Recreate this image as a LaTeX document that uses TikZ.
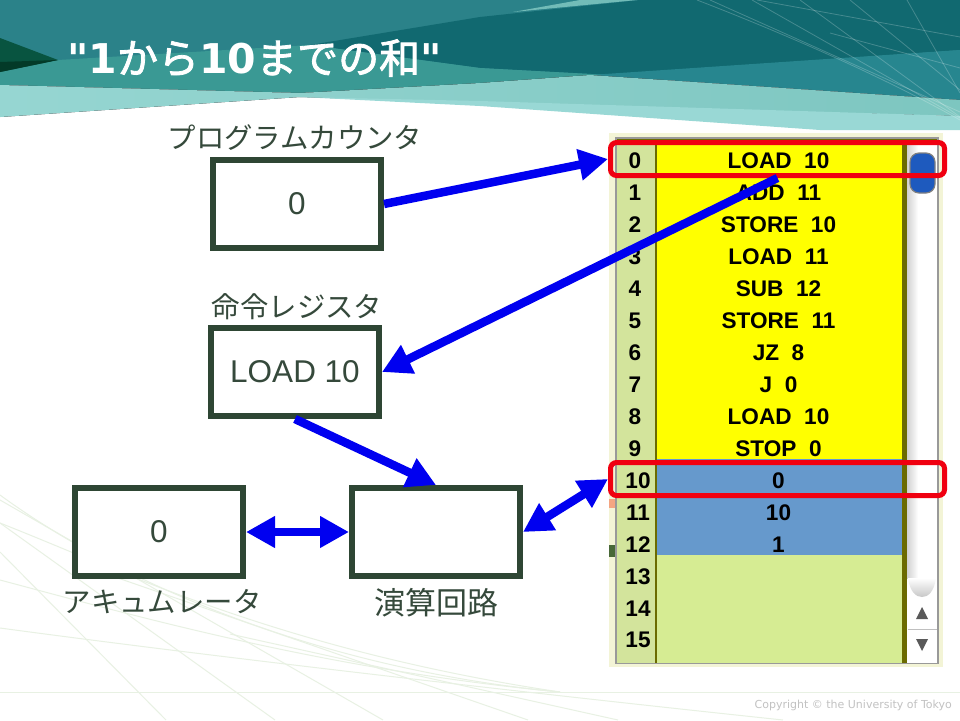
\documentclass[tikz,border=0pt]{standalone}
\usepackage{fontspec}
\setmainfont{Liberation Sans}
\newfontfamily\jpfont{Noto Sans CJK JP}
\newfontfamily\titlelatin{DejaVu Sans Bold}
\newfontfamily\copyfont{DejaVu Sans}
\usetikzlibrary{arrows.meta,shadings}
\definecolor{boxgreen}{HTML}{2E4634}
\definecolor{lblgreen}{HTML}{35493B}
\definecolor{memblue}{HTML}{6699CC}
\definecolor{memlime}{HTML}{D6EC93}
\definecolor{memcol}{HTML}{D3E49C}
\definecolor{memcream}{HTML}{F3F4D6}
\definecolor{memolive}{HTML}{6B6B00}
\definecolor{memyellow}{HTML}{FFFF00}
\definecolor{arrowblue}{HTML}{0000F0}
\definecolor{hlred}{HTML}{F00010}
\definecolor{faint}{HTML}{E8F1E3}
\tikzset{
  x=1pt,y=-1pt,
  regbox/.style={draw=boxgreen,line width=6pt,fill=white,inner sep=0pt,minimum width=168pt,minimum height=88pt,text=lblgreen,font=\fontsize{31.5}{34}\selectfont},
  jplabel/.style={text=lblgreen,inner sep=0pt,font=\jpfont\fontsize{28.4}{32}\selectfont},
  memtext/.style={inner sep=0pt,text=black,font=\bfseries\fontsize{22.6}{24}\selectfont},
  hlbox/.style={draw=hlred,line width=5pt,rounded corners=6pt,minimum width=334pt,minimum height=33pt,inner sep=0pt},
  flow/.style={draw=arrowblue,line width=8.5pt,-{Triangle[length=29pt,width=30pt,fill=arrowblue]}},
  flowboth/.style={draw=arrowblue,line width=8.5pt,{Triangle[length=29pt,width=30pt,fill=arrowblue]}-{Triangle[length=29pt,width=30pt,fill=arrowblue]}},
  bgline/.style={draw=faint,line width=1pt},
  topline/.style={draw=white,draw opacity=.22,line width=.8pt}
}
\begin{document}
\begin{tikzpicture}
\useasboundingbox (0,0) rectangle (960,720);
\fill[white] (0,0) rectangle (960,720);
% lower-left background lines
\draw[bgline] (0,692) -- (960,692);
\draw[bgline] (0,495) .. controls (130,590) and (330,670) .. (560,692);
\draw[bgline] (0,523) .. controls (120,570) and (280,650) .. (560,692);
\draw[bgline] (0,580) .. controls (150,620) and (330,670) .. (560,692);
\draw[bgline] (0,628) .. controls (200,655) and (500,690) .. (783,720);
\draw[bgline] (0,552) -- (166,720);
\draw[bgline] (0,523) -- (275,720);
\draw[bgline] (0,500) -- (383,720);
\draw[bgline] (115,577) -- (528,720);
\draw[bgline] (230,634) -- (618,720);
% header bands
\fill[white] (0,117) -- (300,97) -- (480,106) -- (820,130) -- (960,130) -- (960,140) -- (0,140) -- cycle;
\fill[color={rgb,255:red,43;green,130;blue,137}] (0,0) -- (960,0) -- (960,80) -- (0,80) -- cycle;
\fill[color={rgb,255:red,17;green,105;blue,112}] (310,45) -- (480,17) -- (640,0) -- (960,0) -- (960,50) -- (610,75) -- (480,68) -- cycle;
\fill[color={rgb,255:red,58;green,153;blue,148}] (0,72) -- (58,60) -- (310,45) -- (480,68) -- (610,75) -- (480,85) -- (300,93) -- (0,85) -- cycle;
\fill[color={rgb,255:red,39;green,134;blue,143}] (590,75) -- (960,50) -- (960,100) -- cycle;
\fill[left color={rgb,255:red,150;green,214;blue,210},right color={rgb,255:red,125;green,198;blue,192}] (0,85) -- (300,93) -- (480,83) -- (590,75) -- (960,100) -- (960,116) -- (480,103) -- (300,97) -- (0,117) -- cycle;
\fill[color={rgb,255:red,153;green,216;blue,213}] (300,97) -- (480,101) -- (960,116) -- (960,130) -- (820,130) -- (480,106) -- cycle;
\fill[color={rgb,255:red,114;green,188;blue,184}] (513,12) -- (580,0) -- (637,0) -- cycle;
\fill[color={rgb,255:red,8;green,84;blue,64}] (0,38) -- (58,60) -- (0,72) -- cycle;
\fill[color={rgb,255:red,3;green,58;blue,40}] (0,62) -- (58,60) -- (0,72) -- cycle;
\draw[topline] (697,0) .. controls (780,32) and (880,75) .. (960,120);
\draw[topline] (710,0) -- (960,112);
\draw[topline] (752,0) -- (960,118);
\draw[topline] (800,0) -- (960,117);
\draw[topline] (850,0) -- (960,90);
\draw[topline] (907,0) -- (960,93);
\draw[topline] (757,0) -- (960,37);
\draw[topline] (830,33) -- (960,68);
% title
\node[anchor=west,inner sep=0pt,text=white] (title) at (67,58) {\fontsize{41}{44}\selectfont{\titlelatin "1}{\jpfont\addfontfeatures{FakeBold=2}から}{\titlelatin 10}{\jpfont\addfontfeatures{FakeBold=2}までの和}{\titlelatin "}};
% memory panel
\fill[memcream] (609,133) rectangle (943,667);
\fill[color={rgb,255:red,244;green,165;blue,130}] (609,499) rectangle (616,508);
\fill[color={rgb,255:red,72;green,104;blue,56}] (609,545) rectangle (616,557);
\fill[memcol] (616,138) rectangle (655,663);
\fill[memyellow] (656,145) rectangle (902,459);
\fill[memblue] (656,459) rectangle (902,555);
\fill[memlime] (656,555) rectangle (902,663);
\fill[memolive] (616,138) rectangle (938,140);
\fill[memolive] (654.5,140) rectangle (656.5,663);
\fill[memolive] (902,140) rectangle (907,663);
\fill[white] (907,140) rectangle (937,663);
\shade[left color=black!18,right color=white] (907,140) rectangle (918,578);
\shade[top color=white,bottom color=black!22] (908,578) .. controls (910,592) and (916,597) .. (922,597) .. controls (928,597) and (934,592) .. (936,578) -- cycle;
\shade[left color={rgb,255:red,30;green,90;blue,190},middle color={rgb,255:red,110;green,175;blue,240},right color={rgb,255:red,30;green,90;blue,190},draw=black!50,rounded corners=9pt,line width=1.2pt] (910,153) rectangle (935,193);
\fill[black!65] (916,619) -- (922,607) -- (928,619) -- cycle;
\draw[black!25,line width=.8pt] (908,629) -- (937,629);
\fill[black!65] (916,639) -- (928,639) -- (922,651) -- cycle;
\draw[black!40,line width=1.2pt] (616,138) -- (938,138) -- (938,663.5) -- (616,663.5) -- cycle;
% memory text
\foreach \n/\t in {0/LOAD\ \ 10,1/ADD\ \ 11,2/STORE\ \ 10,3/LOAD\ \ 11,4/SUB\ \ 12,5/STORE\ \ 11,6/JZ\ \ 8,7/J\ \ 0,8/LOAD\ \ 10,9/STOP\ \ 0,10/0,11/10,12/1}{
  \node[memtext] (cell\n) at (778.5,161+31.95*\n) {\t};
}
\foreach \n in {0,...,9}{
  \node[memtext] (addr\n) at (635,161+31.95*\n) {\n};
}
\foreach \n in {10,...,15}{
  \node[memtext] (addr\n) at (638,161+31.95*\n) {\n};
}
% highlights
\node[hlbox] (hlzero) at (777.5,159) {};
\node[hlbox] (hlten) at (777.5,479) {};
% registers
\node[regbox] (pc) at (297,204) {0};
\node[regbox] (ir) at (295,372) {LOAD 10};
\node[regbox] (acc) at (159,532) {0};
\node[regbox] (alu) at (436,532) {};
% labels
\node[jplabel] (pclabel) at (295,138) {プログラムカウンタ};
\node[jplabel] (irlabel) at (297,307) {命令レジスタ};
\node[jplabel] (acclabel) at (162,602) {アキュムレータ};
\node[jplabel,font=\jpfont\fontsize{31}{34}\selectfont] (alulabel) at (436,603) {演算回路};
% connectors
\draw[flow] (pc.east) -- (hlzero.west);
\draw[flow] (hlzero.south) -- (ir.east);
\draw[flow] (ir.south) -- (alu.north);
\draw[flowboth] (acc.east) -- (alu.west);
\draw[flowboth] (alu.east) -- (hlten.west);
% copyright
\node[anchor=east,inner sep=0pt,text=black!24,font=\copyfont\fontsize{11}{13}\selectfont] (copy) at (952,705) {Copyright © the University of Tokyo};
\end{tikzpicture}
\end{document}
